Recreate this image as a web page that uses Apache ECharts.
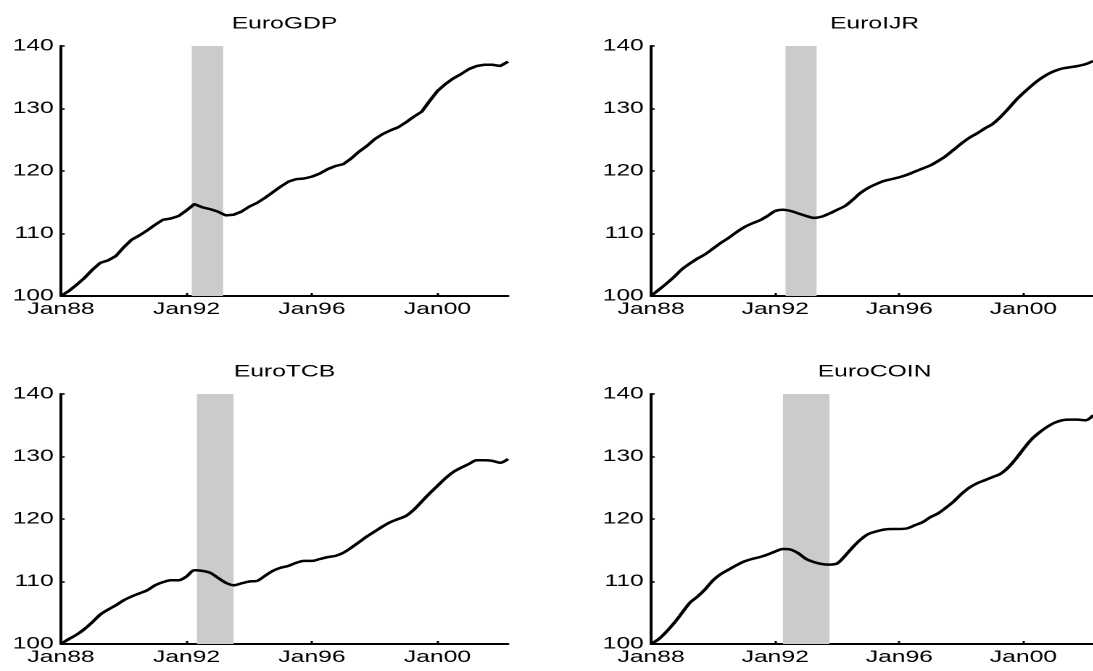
<!DOCTYPE html>
<html>
<head>
<meta charset="utf-8">
<script src="https://cdn.jsdelivr.net/npm/echarts@6/dist/echarts.min.js"></script>
<style>
  html, body { margin: 0; padding: 0; background: #fff; overflow: hidden; }
  #wrap { width: 1093px; height: 671px; overflow: hidden; }
  /* the figure is laid out narrow and widened horizontally */
  #chart { width: 753.8px; height: 671px; transform: scaleX(1.45); transform-origin: 0 0; }
</style>
</head>
<body>
<div id="wrap"><div id="chart"></div></div>
<script>
// Panel titles
const panelTitles = ['EuroGDP', 'EuroIJR', 'EuroTCB', 'EuroCOIN'];

// Quarterly observations, 1988Q1 .. 2002Q2 (index, Jan 1988 = 100)
const euroGDP = [100.0,100.8,101.8,102.9,104.2,105.3,105.7,106.4,107.8,109.0,
  109.7,110.5,111.4,112.2,112.4,112.8,113.7,114.7,114.2,113.9,
  113.5,112.9,113.0,113.5,114.3,114.9,115.7,116.6,117.5,118.3,
  118.7,118.8,119.1,119.6,120.3,120.8,121.1,122.0,123.1,124.0,
  125.1,125.9,126.5,127.0,127.8,128.7,129.5,131.2,132.8,133.9,
  134.8,135.5,136.3,136.8,137.0,137.0,136.8,137.5];
const euroIJR = [100.0,101.0,102.0,103.1,104.3,105.2,106.0,106.7,107.6,108.5,
  109.3,110.2,111.0,111.6,112.1,112.8,113.6,113.8,113.6,113.2,
  112.8,112.5,112.7,113.2,113.8,114.4,115.4,116.5,117.3,117.9,
  118.4,118.7,119.0,119.4,119.9,120.4,120.9,121.6,122.4,123.4,
  124.4,125.3,126.0,126.8,127.5,128.6,129.9,131.3,132.5,133.6,
  134.6,135.4,136.0,136.4,136.6,136.8,137.1,137.6];
const euroTCB = [100.0,100.8,101.5,102.4,103.5,104.7,105.5,106.2,107.0,107.6,
  108.1,108.6,109.4,109.9,110.2,110.2,110.8,111.8,111.7,111.4,
  110.6,109.8,109.4,109.7,110.0,110.1,110.9,111.7,112.2,112.5,
  113.0,113.3,113.3,113.6,113.9,114.1,114.6,115.4,116.3,117.2,
  118.0,118.8,119.5,120.0,120.5,121.5,122.8,124.1,125.3,126.5,
  127.5,128.2,128.8,129.4,129.4,129.3,129.0,129.6];
const euroCOIN = [100.0,100.8,102.0,103.4,105.0,106.6,107.6,108.8,110.2,111.2,
  111.9,112.6,113.2,113.6,113.9,114.3,114.8,115.2,115.1,114.5,
  113.6,113.1,112.8,112.7,112.9,114.1,115.5,116.7,117.6,118.0,
  118.3,118.4,118.4,118.5,119.0,119.5,120.3,120.9,121.8,122.8,
  124.0,125.0,125.7,126.2,126.7,127.2,128.2,129.6,131.2,132.7,
  133.8,134.7,135.4,135.8,135.9,135.9,135.8,136.6];
const seriesValues = [euroGDP, euroIJR, euroTCB, euroCOIN];

// Recession periods shaded in each panel
const recessionStart = ['1992-03', '1992-05', '1992-05', '1992-04'];
const recessionEnd   = ['1993-03', '1993-05', '1993-07', '1993-10'];

// Axis ticks
const xTickLabels = ['Jan88', 'Jan92', 'Jan96', 'Jan00'];
const xTickDates  = ['1988-01', '1992-01', '1996-01', '2000-01'];
const yTicks = [100, 110, 120, 130, 140];

const BASE_YEAR = 1988;
function monthIndex(s) {
  const [y, m] = s.split('-').map(Number);
  return (y - BASE_YEAR) * 12 + (m - 1);
}
// month offsets of the quarterly observations
const obsMonths = euroGDP.map((_, k) => k * 3);
const xTickValues = xTickDates.map(monthIndex);
const xMax = obsMonths[obsMonths.length - 1];

const FONT = '"Liberation Sans", Arial, Helvetica, sans-serif';
const gridLefts = [42.07, 449.0];
const gridTops = [46, 394];
const gridW = 308.3, gridH = 250;

const grids = [], xAxes = [], yAxes = [], series = [], graphics = [];
for (let i = 0; i < 4; i++) {
  const col = i % 2, row = Math.floor(i / 2);
  const left = gridLefts[col], top = gridTops[row];
  grids.push({ left: left, top: top, width: gridW, height: gridH, containLabel: false });
  xAxes.push({
    gridIndex: i, type: 'value', min: 0, max: xMax, interval: 48,
    axisLine: { show: true, lineStyle: { color: '#000', width: 2 } },
    axisTick: { show: true, inside: true, length: 3, customValues: xTickValues,
      lineStyle: { color: '#000', width: 1.5 } },
    axisLabel: { customValues: xTickValues, color: '#000', fontFamily: FONT, fontSize: 17, margin: 5,
      formatter: v => { const k = xTickValues.indexOf(v); return k >= 0 ? xTickLabels[k] : ''; } },
    splitLine: { show: false }
  });
  yAxes.push({
    gridIndex: i, type: 'value', min: yTicks[0], max: yTicks[yTicks.length - 1], interval: 10,
    axisLine: { show: true, lineStyle: { color: '#000', width: 2 } },
    axisTick: { show: true, inside: true, length: 2.5, lineStyle: { color: '#000', width: 1.5 } },
    axisLabel: { color: '#000', fontFamily: FONT, fontSize: 17, margin: 5 },
    splitLine: { show: false }
  });
  series.push({
    type: 'line', xAxisIndex: i, yAxisIndex: i,
    data: obsMonths.map((m, k) => [m, seriesValues[i][k]]),
    showSymbol: false, symbol: 'none',
    smooth: i === 0 ? false : 0.3,
    lineStyle: { color: '#000', width: 2.5 },
    z: 3,
    markArea: {
      silent: true,
      itemStyle: { color: '#cbcbcb' },
      data: [[{ xAxis: monthIndex(recessionStart[i]) }, { xAxis: monthIndex(recessionEnd[i]) }]]
    }
  });
  graphics.push({
    type: 'text', x: left + gridW / 2, y: top - 22, z: 10,
    style: { text: panelTitles[i], fill: '#000', font: '17px ' + FONT,
      align: 'center', verticalAlign: 'middle', textAlign: 'center', textVerticalAlign: 'middle' }
  });
}

const chart = echarts.init(document.getElementById('chart'), null, { renderer: 'canvas', devicePixelRatio: 2 });
chart.setOption({
  animation: false,
  backgroundColor: '#fff',
  grid: grids,
  xAxis: xAxes,
  yAxis: yAxes,
  series: series,
  graphic: graphics
});
</script>
</body>
</html>
